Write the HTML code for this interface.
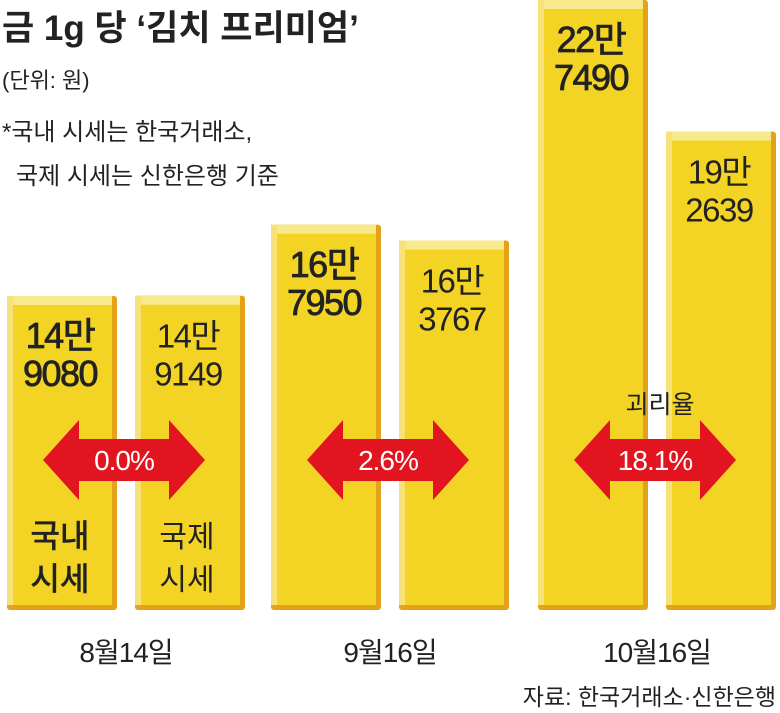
<!DOCTYPE html>
<html><head><meta charset="utf-8"><style>
body{margin:0;width:780px;height:713px;background:#fff;overflow:hidden;font-family:"Liberation Sans","Noto Sans CJK KR",sans-serif;color:#222}
svg{position:absolute;left:0;top:0}
</style></head><body>
<svg id="c" width="780" height="713"></svg>
<script>
const dates=["8월14일","9월16일","10월16일"];
const domestic=[149080,167950,227490];
const international=[149149,163767,192639];
const gaps=["0.0%","2.6%","18.1%"];
const domLabels=[["14만","9080"],["16만","7950"],["22만","7490"]];
const intlLabels=[["14만","9149"],["16만","3767"],["19만","2639"]];
const NS="http://www.w3.org/2000/svg";
const svg=document.getElementById('c');
function el(t,a,p){const e=document.createElementNS(NS,t);for(const k in a)e.setAttribute(k,a[k]);(p||svg).appendChild(e);return e;}
const base=610;
function y(v){return 296-(v-149080)*296/78410;}
const groupX=[7,271,538],barW=110,gapIn=18;
function txt(s,x,yy,size,opts,p){const t=el('text',Object.assign({x:x,y:yy,'font-size':size,'text-anchor':'middle',fill:'#222'},opts||{}),p);t.textContent=s;return t;}
function bar(x,v,name,labels,dom){
  const top=y(v);const g=el('g',{});
  
  
  el('rect',{x:x,y:top,width:barW,height:base-top,fill:'#e3a21a',rx:3},g);
  el('rect',{x:x,y:top,width:barW-5,height:base-top-5,fill:'#f3d425'},g);
  el('rect',{x:x,y:top,width:barW-5,height:9,fill:'#f8ea8c'},g);
  el('rect',{x:x,y:top,width:6,height:base-top-5,fill:'#f7e27a'},g);
  const cx=x+barW/2-2;
  const o={'letter-spacing':'-1.5','font-weight':'normal',stroke:dom?'#222':'none','stroke-width':dom?0.8:0};
  txt(labels[0],cx,top+52,dom?36:33,o,g);
  txt(labels[1],cx,top+90,dom?36:33,o,g);
}
for(let i=0;i<3;i++){
  const x1=groupX[i],x2=x1+barW+gapIn;
  bar(x1,domestic[i],'domestic-bar-'+(i+1),domLabels[i],true);
  bar(x2,international[i],'international-bar-'+(i+1),intlLabels[i],false);
  const cy=460,L=x1+36,R=x2+barW-40,hw=40,sh=21,hl=36;
  const a=el('path',{d:`M${L} ${cy} L${L+hl} ${cy-hw} L${L+hl} ${cy-sh} L${R-hl} ${cy-sh} L${R-hl} ${cy-hw} L${R} ${cy} L${R-hl} ${cy+hw} L${R-hl} ${cy+sh} L${L+hl} ${cy+sh} L${L+hl} ${cy+hw} Z`,fill:'#e1141f'});
  
  
  const gt=txt(gaps[i],(L+R)/2,cy+10,28,{fill:'#fff','letter-spacing':'-1'});
  
  
  const dt=txt(dates[i],x2-gapIn/2,662,28,{fill:'#222','letter-spacing':'-1'});
  
  
}
txt('괴리율',660,413,25,{});
txt('국내',60,547,32,{stroke:'#222','stroke-width':0.8});txt('시세',60,590,32,{stroke:'#222','stroke-width':0.8});
txt('국제',187,547,30,{});txt('시세',187,590,30,{});
function lt(s,x,yy,size,w,anchor){const t=el('text',{x:x,y:yy,'font-size':size,fill:'#222','font-weight':w||'normal','text-anchor':anchor||'start'});t.textContent=s;return t;}
const t1=lt('금 1g 당 ‘김치 프리미엄’',2,40,35,'bold');
const t2=lt('(단위: 원)',2,88,22);
const t3=lt('*국내 시세는 한국거래소,',2,140,24);
const t4=lt('국제 시세는 신한은행 기준',16,184,24);
const t5=lt('자료: 한국거래소·신한은행',776,705,23,'normal','end');
</script>
</body></html>
